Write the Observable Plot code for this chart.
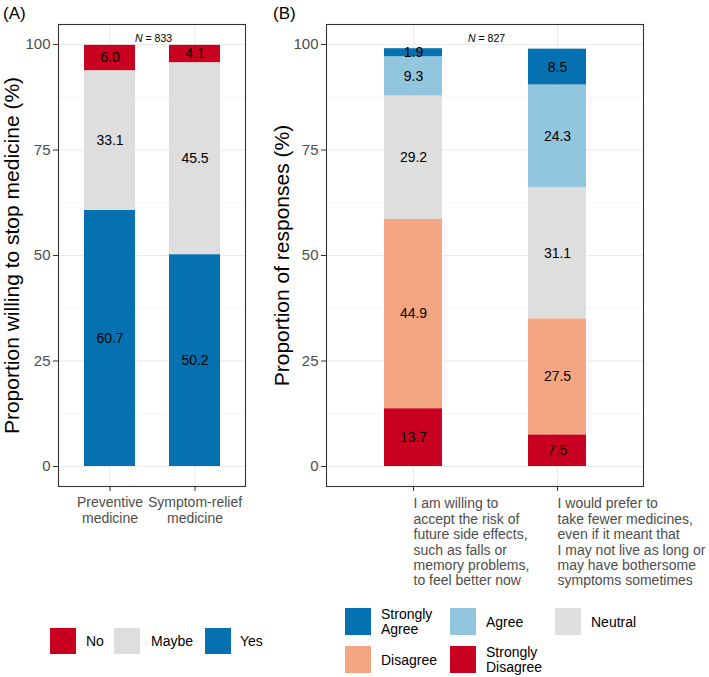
<!DOCTYPE html>
<html><head><meta charset="utf-8">
<script src="https://cdn.jsdelivr.net/npm/d3@7"></script>
<script src="https://cdn.jsdelivr.net/npm/@observablehq/plot@0.6"></script>
<style>
body{margin:0;background:#fff;font-family:"Liberation Sans",Arial,sans-serif;}
#wrap{position:relative;width:709px;height:677px;overflow:hidden;background:#fff;}
.tag{position:absolute;font-size:17px;color:#000;line-height:17px;}
.sw{position:absolute;width:26px;height:26px;}
.lt{position:absolute;font-size:14px;color:#000;line-height:15px;transform:translateY(-50%);white-space:nowrap;}
svg{position:absolute;top:0;}
</style></head><body><div id="wrap"></div>
<script>
// ---- Panel A data ----
const catsA = ["Preventive medicine", "Symptom-relief medicine"];
const labelsA = ["Preventive\nmedicine", "Symptom-relief\nmedicine"];
const respA = ["Yes", "Maybe", "No"];
const yesA = [60.7, 50.2];
const maybeA = [33.1, 45.5];
const noA = [6.0, 4.1];
const colorsA = ["#0571B0", "#DEDEDE", "#CA0020"];
const nTextA = "833";
const titleA = "Proportion willing to stop medicine (%)";

// ---- Panel B data ----
const catsB = ["Accept risk", "Fewer medicines"];
const labelsB = [
  "I am willing to\naccept the risk of\nfuture side effects,\nsuch as falls or\nmemory problems,\nto feel better now",
  "I would prefer to\ntake fewer medicines,\neven if it meant that\nI may not live as long or\nmay have bothersome\nsymptoms sometimes"
];
const respB = ["Strongly Disagree", "Disagree", "Neutral", "Agree", "Strongly Agree"];
const stronglyDisagreeB = [13.7, 7.5];
const disagreeB = [44.9, 27.5];
const neutralB = [29.2, 31.1];
const agreeB = [9.3, 24.3];
const stronglyAgreeB = [1.9, 8.5];
const colorsB = ["#CA0020", "#F4A582", "#DEDEDE", "#92C5DE", "#0571B0"];
const nTextB = "827";
const titleB = "Proportion of responses (%)";

const yTicks = [0, 25, 50, 75, 100];
const yMinor = [12.5, 37.5, 62.5, 87.5];

const tableA = [];
catsA.forEach((c, i) => {
  [yesA, maybeA, noA].forEach((arr, j) => tableA.push({cat: c, resp: respA[j], value: arr[i]}));
});
const tableB = [];
catsB.forEach((c, i) => {
  [stronglyDisagreeB, disagreeB, neutralB, agreeB, stronglyAgreeB].forEach((arr, j) => tableB.push({cat: c, resp: respB[j], value: arr[i]}));
});

const FONT = "Liberation Sans, Arial, sans-serif";
const yPxPerUnit = (466 - 44) / 100;
const yDomain = [-(486 - 466) / yPxPerUnit, 100 + (44 - 24) / yPxPerUnit];

function panel({cats, labels, resp, colors, table, nText, title, width, marginLeft, marginRight, paddingInner, paddingOuter, labelAnchor, labelLineHeight, labelDy, titleDx}) {
  return Plot.plot({
    width, height: 600,
    marginLeft, marginRight, marginTop: 24, marginBottom: 114,
    style: {fontFamily: FONT, background: "transparent", overflow: "visible"},
    x: {domain: cats, paddingInner, paddingOuter, axis: null},
    y: {domain: yDomain, axis: null},
    color: {domain: resp, range: colors},
    marks: [
      Plot.gridY(yMinor, {stroke: "#EBEBEB", strokeOpacity: 1, strokeWidth: 0.55}),
      Plot.gridY(yTicks, {stroke: "#EBEBEB", strokeOpacity: 1, strokeWidth: 1.1}),
      Plot.gridX({stroke: "#EBEBEB", strokeOpacity: 1, strokeWidth: 1.1}),
      Plot.barY(table, {x: "cat", y: "value", fill: "resp", order: resp}),
      Plot.text(table, Plot.stackY({x: "cat", y: "value", z: "resp", order: resp,
        text: d => d.value.toFixed(1), fontSize: 14, fill: "#000"})),
      Plot.frame({stroke: "#333", strokeWidth: 1.1}),
      Plot.axisY(yTicks, {tickSize: 5, tickPadding: 3, fontSize: 15, stroke: "#333", fill: "#4D4D4D", label: null}),
      Plot.axisX({tickSize: 5, stroke: "#333", tickFormat: () => "", label: null}),
      Plot.text(cats, {x: d => d, text: (d, i) => labels[i], frameAnchor: "bottom", lineAnchor: "top",
        dy: labelDy, fontSize: 14, fill: "#4D4D4D", textAnchor: labelAnchor, lineHeight: labelLineHeight}),
      Plot.text([0], {frameAnchor: "top", text: () => "N", fontStyle: "italic", fontSize: 10.5,
        textAnchor: "start", dx: -17, dy: 10, fill: "#000"}),
      Plot.text([0], {frameAnchor: "top", text: () => "\u00A0= " + nText, fontSize: 10.5,
        textAnchor: "start", dx: -17 + 7.6, dy: 10, fill: "#000"}),
      Plot.text([0], {frameAnchor: "left", text: () => title, rotate: -90, fontSize: 21,
        textAnchor: "middle", lineAnchor: "middle", dx: titleDx, fill: "#000"})
    ]
  });
}

const wrap = document.getElementById("wrap");

const svgA = panel({cats: catsA, labels: labelsA, resp: respA, colors: colorsA, table: tableA,
  nText: nTextA, title: titleA, width: 260, marginLeft: 58, marginRight: 15,
  paddingInner: 0.4, paddingOuter: 0.3, labelAnchor: "middle", labelLineHeight: 1.15, labelDy: 9, titleDx: -46});
svgA.style.left = "0px";
wrap.appendChild(svgA);

const svgB = panel({cats: catsB, labels: labelsB, resp: respB, colors: colorsB, table: tableB,
  nText: nTextB, title: titleB, width: 449, marginLeft: 66, marginRight: 66,
  paddingInner: 0.6, paddingOuter: 0.4, labelAnchor: "start", labelLineHeight: 1.1, labelDy: 11, titleDx: -44});
svgB.style.left = "260px";
wrap.appendChild(svgB);

function addDiv(cls, text, left, top, extra) {
  const d = document.createElement("div");
  d.className = cls;
  if (text != null) d.innerHTML = text;
  d.style.left = left + "px";
  d.style.top = top + "px";
  if (extra) Object.assign(d.style, extra);
  wrap.appendChild(d);
  return d;
}
addDiv("tag", "(A)", 3, 5);
addDiv("tag", "(B)", 273, 5);

// Legend A (order: No, Maybe, Yes)
const legA = [["No", 50, 86], ["Maybe", 114, 151], ["Yes", 205, 240]];
legA.forEach(([name, sx, tx]) => {
  addDiv("sw", null, sx, 628, {background: colorsA[respA.indexOf(name)]});
  addDiv("lt", name, tx, 641);
});

// Legend B
const legB = [
  ["Strongly Agree", "Strongly<br>Agree", 345, 608, 381],
  ["Agree", "Agree", 450, 608, 486],
  ["Neutral", "Neutral", 555, 608, 591],
  ["Disagree", "Disagree", 345, 646, 381],
  ["Strongly Disagree", "Strongly<br>Disagree", 450, 646, 486]
];
legB.forEach(([name, html, sx, sy, tx]) => {
  addDiv("sw", null, sx, sy, {background: colorsB[respB.indexOf(name)], height: "27px"});
  addDiv("lt", html, tx, sy + 14);
});
</script></body></html>
